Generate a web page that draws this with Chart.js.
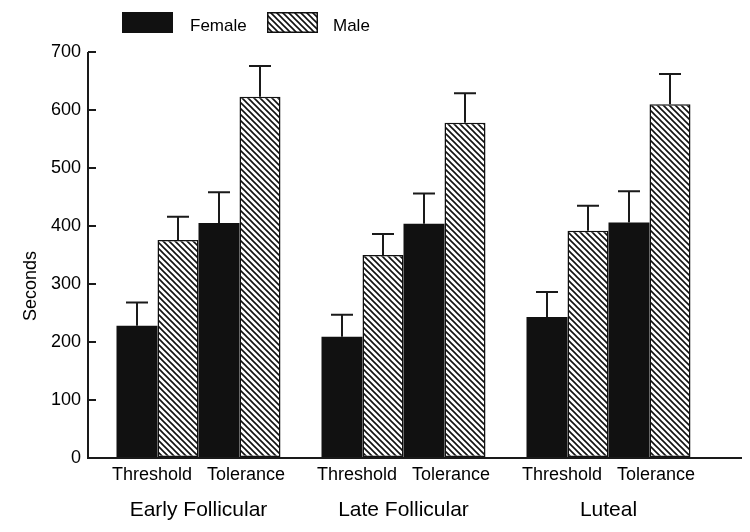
<!DOCTYPE html>
<html>
<head>
<meta charset="utf-8">
<title>Seconds by cycle phase</title>
<script src="https://cdn.jsdelivr.net/npm/chart.js@4.4.1/dist/chart.umd.min.js"></script>
<style>
  html, body { margin: 0; padding: 0; background: #fff; }
  #wrap { position: relative; width: 750px; height: 532px; }
</style>
</head>
<body>
<div id="wrap"><canvas id="chart"></canvas></div>
<script>
// x axis: three phases, two tests inside each phase
const phases = ["Early Follicular", "Late Follicular", "Luteal"];
const tests = ["Threshold", "Tolerance"];
const yTicks = [0, 100, 200, 300, 400, 500, 600, 700];

// mean seconds
const femaleThreshold = [228, 209, 243];
const maleThreshold = [376, 350, 392];
const femaleTolerance = [405, 404, 406];
const maleTolerance = [623, 578, 610];

// upper error bars
const femaleThresholdErr = [40, 38, 43];
const maleThresholdErr = [40, 36, 43];
const femaleToleranceErr = [53, 52, 54];
const maleToleranceErr = [53, 51, 52];

const FONT = "'Liberation Sans', Arial, sans-serif";
const INK = "#111111";

Chart.defaults.font.family = FONT;
Chart.defaults.color = "#000000";

const canvas = document.getElementById("chart");
const ctx = canvas.getContext("2d");

// diagonal hatch used for the male bars
function makeHatch() {
  const tile = document.createElement("canvas");
  tile.width = 6;
  tile.height = 6;
  const g = tile.getContext("2d");
  g.fillStyle = "#ffffff";
  g.fillRect(0, 0, 6, 6);
  g.strokeStyle = INK;
  g.lineWidth = 1.6;
  g.beginPath();
  g.moveTo(-1, -1); g.lineTo(7, 7);
  g.moveTo(5, -1); g.lineTo(7, 1);
  g.moveTo(-1, 5); g.lineTo(1, 7);
  g.stroke();
  return ctx.createPattern(tile, "repeat");
}
const hatch = makeHatch();

function femaleSet(data, errors) {
  return { label: "Female", data: data, errors: errors,
    backgroundColor: INK, borderWidth: 0 };
}
function maleSet(data, errors) {
  return { label: "Male", data: data, errors: errors,
    backgroundColor: hatch, borderColor: INK, borderWidth: 1.5, borderSkipped: false };
}

// axis lines: y axis sits left of the first tick, x axis runs past the last bar
const axisLines = {
  id: "axisLines",
  afterDatasetsDraw(chart) {
    const c = chart.ctx;
    const area = chart.chartArea;
    const y = chart.scales.y;
    const x0 = area.left - 8;
    const base = y.getPixelForValue(0);
    c.save();
    c.strokeStyle = "#1a1a1a";
    c.lineWidth = 2;
    c.beginPath();
    c.moveTo(x0, y.getPixelForValue(yTicks[yTicks.length - 1]));
    c.lineTo(x0, base);
    c.lineTo(area.right + 31, base);
    c.stroke();
    c.restore();
  }
};

// upper error bars with caps
const errorBars = {
  id: "errorBars",
  afterDatasetsDraw(chart) {
    const c = chart.ctx;
    const y = chart.scales.y;
    c.save();
    c.strokeStyle = "#1a1a1a";
    c.lineWidth = 2;
    chart.data.datasets.forEach((ds, i) => {
      const meta = chart.getDatasetMeta(i);
      meta.data.forEach((bar, j) => {
        const top = y.getPixelForValue(ds.data[j]);
        const tip = y.getPixelForValue(ds.data[j] + ds.errors[j]);
        c.beginPath();
        c.moveTo(bar.x, top);
        c.lineTo(bar.x, tip);
        c.moveTo(bar.x - 11, tip);
        c.lineTo(bar.x + 11, tip);
        c.stroke();
      });
    });
    c.restore();
  }
};

// legend (Female / Male) and the rotated y title
const legendAndTitle = {
  id: "legendAndTitle",
  afterDraw(chart) {
    const c = chart.ctx;
    const sets = chart.data.datasets;
    const items = [
      { ds: sets[0], box: 122, text: 190 },
      { ds: sets[1], box: 267, text: 333 }
    ];
    c.save();
    items.forEach(it => {
      c.fillStyle = it.ds.backgroundColor;
      c.fillRect(it.box, 12, 51, 21);
      if (it.ds.borderWidth) {
        c.strokeStyle = INK;
        c.lineWidth = 1.5;
        c.strokeRect(it.box + 0.75, 12.75, 49.5, 19.5);
      }
      c.fillStyle = "#000000";
      c.font = "17px " + FONT;
      c.textAlign = "left";
      c.textBaseline = "middle";
      c.fillText(it.ds.label, it.text, 26);
    });
    c.translate(31, 286);
    c.rotate(-Math.PI / 2);
    c.font = "18px " + FONT;
    c.textAlign = "center";
    c.textBaseline = "middle";
    c.fillText("Seconds", 0, 0);
    c.restore();
  }
};

new Chart(ctx, {
  type: "bar",
  data: {
    labels: phases,
    datasets: [
      femaleSet(femaleThreshold, femaleThresholdErr),
      maleSet(maleThreshold, maleThresholdErr),
      femaleSet(femaleTolerance, femaleToleranceErr),
      maleSet(maleTolerance, maleToleranceErr)
    ]
  },
  options: {
    responsive: true,
    maintainAspectRatio: false,
    animation: false,
    categoryPercentage: 0.8,
    barPercentage: 1.0,
    layout: { padding: { top: 52, right: 39, bottom: 0, left: 0 } },
    plugins: {
      legend: { display: false },
      tooltip: { enabled: false }
    },
    scales: {
      x: {
        type: "category",
        position: "bottom",
        weight: 0,
        grid: { display: false, drawTicks: false },
        border: { display: false },
        ticks: {
          padding: 6,
          maxRotation: 0,
          autoSkip: false,
          font: { size: 18 },
          callback: () => tests.join("   ")
        },
        afterFit: (scale) => { scale.height = 34; }
      },
      x2: {
        type: "category",
        position: "bottom",
        weight: 1,
        offset: true,
        grid: { display: false, drawTicks: false },
        border: { display: false },
        ticks: {
          padding: 6,
          maxRotation: 0,
          autoSkip: false,
          font: { size: 21 },
          callback: (v, i) => phases[i]
        },
        afterFit: (scale) => { scale.height = 40; }
      },
      y: {
        min: yTicks[0],
        max: yTicks[yTicks.length - 1],
        afterBuildTicks: (scale) => { scale.ticks = yTicks.map(v => ({ value: v })); },
        grid: {
          drawOnChartArea: false,
          drawTicks: true,
          tickLength: 8,
          color: "#1a1a1a",
          lineWidth: 2
        },
        border: { display: false },
        ticks: { padding: 7, font: { size: 18 } },
        afterFit: (scale) => { scale.width = 96; }
      }
    }
  },
  plugins: [axisLines, errorBars, legendAndTitle]
});
</script>
</body>
</html>
